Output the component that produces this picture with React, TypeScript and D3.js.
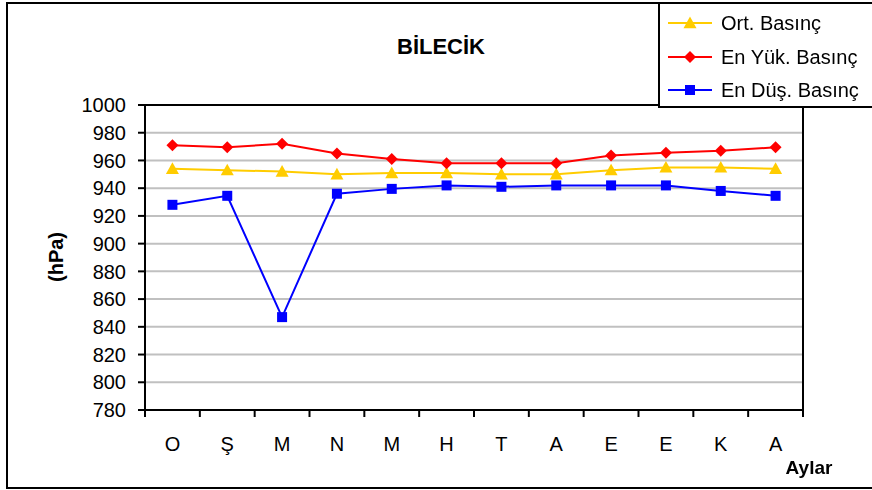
import React from "react";
import * as d3 from "d3";

const months = ["O", "Ş", "M", "N", "M", "H", "T", "A", "E", "E", "K", "A"];
const ortBasinc = [954, 953, 952, 950, 951, 951, 950, 950, 953, 955, 955, 954];
const enYukBasinc = [971, 969.5, 972, 965, 961, 958, 958, 958, 963.5, 965.5, 967, 969.5];
const enDusBasinc = [928, 934.5, 847, 936, 939.5, 942, 941, 942, 942, 942, 938, 934.5];
const yTicks = [780, 800, 820, 840, 860, 880, 900, 920, 940, 960, 980, 1000];

const W = 872;
const H = 490;
const FONT = "'Liberation Sans', Arial, sans-serif";

export default function App() {
  const left = 145, right = 803, top = 105, bottom = 410;
  const x = d3.scaleBand<number>().domain(d3.range(months.length)).range([left, right]);
  const y = d3.scaleLinear().domain([780, 1000]).range([bottom, top]);
  const line = d3
    .line<number>()
    .x((_, i) => (x(i) as number) + x.bandwidth() / 2)
    .y((d) => y(d));
  const cx = (i: number) => (x(i) as number) + x.bandwidth() / 2;

  const tri = (px: number, py: number) => {
    const s = 6.5;
    return `M${px},${py - s} L${px + s},${py + s * 0.8} L${px - s},${py + s * 0.8} Z`;
  };
  const dia = (px: number, py: number) => {
    const s = 6;
    return `M${px},${py - s} L${px + s},${py} L${px},${py + s} L${px - s},${py} Z`;
  };

  const legend = [
    { label: "Ort. Basınç", color: "#FFCC00", kind: "tri", y: 23 },
    { label: "En Yük. Basınç", color: "#FF0000", kind: "dia", y: 57 },
    { label: "En Düş. Basınç", color: "#0000FF", kind: "sq", y: 90 },
  ];

  const marker = (kind: string, px: number, py: number, color: string, key: string) => {
    if (kind === "tri") return <path key={key} d={tri(px, py)} fill={color} />;
    if (kind === "dia") return <path key={key} d={dia(px, py)} fill={color} />;
    return <rect key={key} x={px - 5} y={py - 5} width={10} height={10} fill={color} />;
  };

  return (
    <div style={{ position: "fixed", left: 0, top: 0 }}>
      <svg width={W} height={H} style={{ display: "block", fontFamily: FONT }}>
        <rect x={0} y={0} width={W} height={H} fill="#fff" />
        <rect x={7} y={3} width={900} height={485} fill="#fff" stroke="#000" strokeWidth={2} />
        {/* gridlines */}
        {yTicks.map((t) => (
          <line key={"g" + t} x1={left} x2={right} y1={y(t)} y2={y(t)} stroke="#C0C0C0" strokeWidth={2} />
        ))}
        {/* plot border */}
        <rect x={left} y={top} width={right - left} height={bottom - top} fill="none" stroke="#000" strokeWidth={2} />
        {/* y ticks */}
        {yTicks.map((t) => (
          <g key={"yt" + t}>
            <line x1={left - 7} x2={left} y1={y(t)} y2={y(t)} stroke="#000" strokeWidth={2} />
            <text x={126} y={y(t)} dy="0.36em" textAnchor="end" fontSize={20} fill="#000">
              {t}
            </text>
          </g>
        ))}
        {/* x ticks */}
        {d3.range(months.length + 1).map((i) => {
          const px = left + i * x.bandwidth();
          return <line key={"xt" + i} x1={px} x2={px} y1={bottom} y2={bottom + 7} stroke="#000" strokeWidth={2} />;
        })}
        {months.map((m, i) => (
          <text key={"xl" + i} x={cx(i)} y={451} textAnchor="middle" fontSize={20} fill="#000">
            {m}
          </text>
        ))}
        {/* series */}
        <path d={line(ortBasinc) || ""} fill="none" stroke="#FFCC00" strokeWidth={2} />
        <path d={line(enYukBasinc) || ""} fill="none" stroke="#FF0000" strokeWidth={2} />
        <path d={line(enDusBasinc) || ""} fill="none" stroke="#0000FF" strokeWidth={2} />
        {ortBasinc.map((v, i) => marker("tri", cx(i), y(v), "#FFCC00", "o" + i))}
        {enYukBasinc.map((v, i) => marker("dia", cx(i), y(v), "#FF0000", "r" + i))}
        {enDusBasinc.map((v, i) => marker("sq", cx(i), y(v), "#0000FF", "b" + i))}
        {/* title */}
        <text x={441} y={54} textAnchor="middle" fontSize={22} fontWeight="bold" fill="#000">
          BİLECİK
        </text>
        <text transform="translate(63,257) rotate(-90)" textAnchor="middle" fontSize={20} fontWeight="bold" fill="#000">
          (hPa)
        </text>
        <text x={809} y={474} textAnchor="middle" fontSize={19} fontWeight="bold" fill="#000">
          Aylar
        </text>
        {/* legend */}
        <rect x={659} y={3} width={300} height={104} fill="#fff" stroke="#000" strokeWidth={2} />
        {legend.map((l) => (
          <g key={l.label}>
            <line x1={668} x2={712} y1={l.y} y2={l.y} stroke={l.color} strokeWidth={2} />
            {marker(l.kind, 690, l.y, l.color, "lm" + l.label)}
            <text x={721} y={l.y} dy="0.36em" fontSize={20} fill="#000">
              {l.label}
            </text>
          </g>
        ))}
      </svg>
    </div>
  );
}
